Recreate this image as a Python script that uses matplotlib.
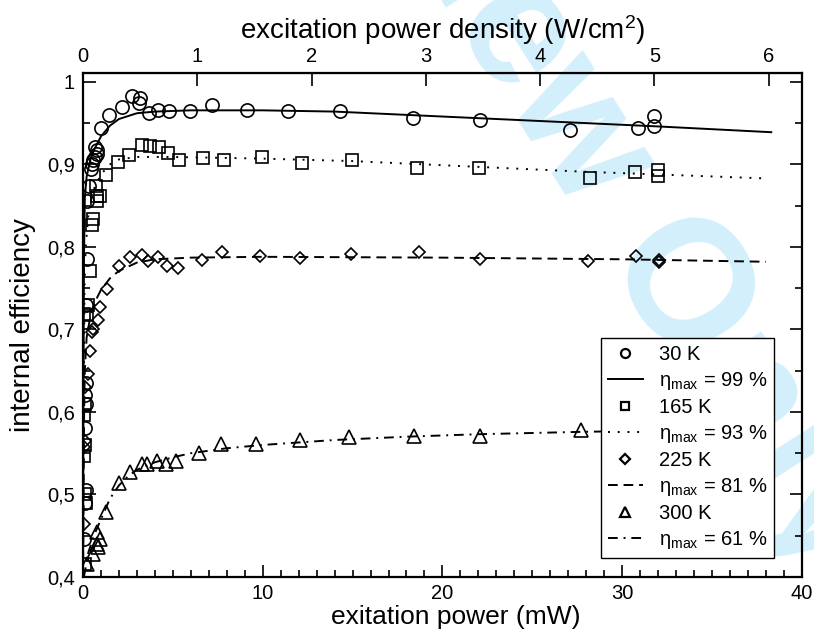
import numpy as np
import matplotlib.pyplot as plt
from matplotlib.lines import Line2D
from matplotlib.ticker import MultipleLocator, FixedLocator

plt.rcParams['font.family'] = ['Liberation Sans', 'DejaVu Sans']
plt.rcParams['mathtext.fontset'] = 'custom'
plt.rcParams['mathtext.rm'] = 'Liberation Sans'
plt.rcParams['mathtext.default'] = 'regular'

# measured points (power in mW, internal efficiency)
x_30K = [0.05, 0.1, 0.15, 0.12, 0.15, 0.12, 0.15, 0.17, 0.2, 0.2, 0.35, 0.42, 0.48, 0.57, 0.67,
         0.8, 0.76, 0.67, 0.98, 1.46, 2.15, 2.7, 3.13, 3.17, 3.69, 4.15, 4.8, 5.94, 7.2, 9.13,
         11.4, 14.3, 18.35, 22.1, 27.1, 30.9, 31.8, 31.8]
y_30K = [0.446, 0.49, 0.505, 0.58, 0.61, 0.62, 0.635, 0.73, 0.785, 0.856, 0.874, 0.895, 0.901,
         0.905, 0.909, 0.913, 0.917, 0.921, 0.944, 0.960, 0.969, 0.983, 0.975, 0.980, 0.962,
         0.966, 0.9645, 0.9645, 0.972, 0.966, 0.965, 0.965, 0.956, 0.954, 0.942, 0.944, 0.959, 0.946]

x_165K = [0.1, 0.15, 0.1, 0.06, 0.1, 0.05, 0.1, 0.05, 0.2, 0.3, 0.39, 0.48, 0.57, 0.72, 0.8, 0.8,
          0.94, 1.28, 1.96, 2.57, 3.3, 3.7, 4.24, 4.74, 5.35, 6.65, 7.85, 9.98, 12.2, 14.96,
          18.6, 22.05, 28.2, 30.7, 32.0, 32.0]
y_165K = [0.416, 0.49, 0.50, 0.547, 0.56, 0.596, 0.61, 0.719, 0.717, 0.729, 0.771, 0.826, 0.834,
          0.874, 0.862, 0.856, 0.862, 0.887, 0.9035, 0.911, 0.924, 0.922, 0.921, 0.9135, 0.905,
          0.908, 0.9055, 0.909, 0.902, 0.9055, 0.896, 0.896, 0.8836, 0.891, 0.893, 0.8865]

x_225K = [0.05, 0.08, 0.1, 0.12, 0.3, 0.39, 0.48, 0.57, 0.85, 0.94, 1.31, 2.0, 2.6, 3.26, 3.63,
          4.18, 4.65, 5.3, 6.6, 7.76, 9.83, 12.05, 14.9, 18.7, 22.1, 28.1, 30.8, 32.05, 32.05]
y_225K = [0.464, 0.557, 0.565, 0.63, 0.646, 0.674, 0.697, 0.70, 0.711, 0.727, 0.749, 0.777,
          0.7875, 0.790, 0.7835, 0.7875, 0.777, 0.775, 0.7846, 0.7935, 0.7895, 0.787, 0.791,
          0.7935, 0.7855, 0.7827, 0.7895, 0.7846, 0.782]

x_300K = [0.2, 0.57, 0.76, 0.85, 0.8, 0.94, 1.3, 2.0, 2.6, 3.26, 3.57, 4.13, 4.6, 5.2, 6.46,
          7.67, 9.65, 12.05, 14.8, 18.4, 22.1, 27.7]
y_300K = [0.416, 0.428, 0.44, 0.436, 0.454, 0.446, 0.479, 0.514, 0.527, 0.537, 0.537, 0.540,
          0.537, 0.540, 0.550, 0.561, 0.561, 0.566, 0.570, 0.571, 0.571, 0.578]

# fitted curves
fx_30K = [0.0, 0.02, 0.05, 0.1, 0.2, 0.4, 0.6, 1.0, 1.5, 2.0, 3.0, 4.0, 6.0, 10, 14, 20, 26, 32, 38.3]
fy_30K = [0.40, 0.60, 0.78, 0.86, 0.885, 0.905, 0.917, 0.934, 0.947, 0.955, 0.962, 0.964,
          0.9655, 0.9655, 0.964, 0.958, 0.952, 0.946, 0.939]

fx_165K = [0.0, 0.03, 0.08, 0.15, 0.3, 0.6, 1.0, 1.5, 2.0, 3, 5, 10, 15, 22, 28, 38]
fy_165K = [0.40, 0.60, 0.75, 0.80, 0.84, 0.87, 0.888, 0.90, 0.906, 0.909, 0.909, 0.907,
           0.904, 0.897, 0.891, 0.883]

fx_225K = [0.0, 0.03, 0.06, 0.1, 0.2, 0.4, 0.7, 1.0, 1.5, 2.0, 3.0, 4.0, 6, 10, 20, 30, 38]
fy_225K = [0.40, 0.50, 0.60, 0.65, 0.69, 0.715, 0.735, 0.748, 0.762, 0.771, 0.781, 0.785,
           0.787, 0.788, 0.787, 0.785, 0.782]

fx_300K = [0.05, 0.3, 0.6, 1.0, 1.5, 2, 2.5, 3, 4, 5, 6, 8, 10, 14, 18, 22, 28, 38]
fy_300K = [0.40, 0.43, 0.45, 0.47, 0.495, 0.511, 0.522, 0.53, 0.539, 0.545, 0.55, 0.556,
           0.56, 0.566, 0.57, 0.573, 0.576, 0.579]

temps = ['30 K', '165 K', '225 K', '300 K']
eta_max = [99, 93, 81, 61]

y_ticks = [0.4, 0.5, 0.6, 0.7, 0.8, 0.9, 1.0]
y_ticklabels = ['0,4', '0,5', '0,6', '0,7', '0,8', '0,9', '1']
top_ticks = [0, 1, 2, 3, 4, 5, 6]
mw_per_wcm2 = 6.36

fig = plt.figure(figsize=(8.14, 6.33), dpi=100)
ax = fig.add_axes([0.102, 0.0885, 0.883, 0.7965])
ax.patch.set_alpha(0)

# watermark
fig.text(0.592, 1.03, 'For Review Only', rotation=-57.5, fontsize=126, fontweight='bold',
         color='#d3effc', ha='center', va='center', zorder=-1, rotation_mode='anchor')

lw = 1.4
mk = dict(ls='none', mfc='none', mec='black', mew=1.2, color='black')
ax.plot(x_30K, y_30K, marker='o', ms=9.5, **mk)
ax.plot(x_165K, y_165K, marker='s', ms=8.5, **mk)
ax.plot(x_225K, y_225K, marker='D', ms=6.6, **mk)
ax.plot(x_300K, y_300K, marker='^', ms=9.5, **mk)

styles = ['-', (0, (1, 4)), (0, (5, 3)), (0, (5, 3, 1, 3))]
ax.plot(fx_30K, fy_30K, color='black', lw=lw, ls=styles[0])
ax.plot(fx_165K, fy_165K, color='black', lw=lw, ls=styles[1])
ax.plot(fx_225K, fy_225K, color='black', lw=lw, ls=styles[2])
ax.plot(fx_300K, fy_300K, color='black', lw=lw, ls=styles[3])

ax.set_xlim(0, 40)
ax.set_ylim(0.4, 1.011)
ax.xaxis.set_major_locator(MultipleLocator(10))
ax.xaxis.set_minor_locator(MultipleLocator(1))
ax.yaxis.set_major_locator(FixedLocator(y_ticks))
ax.set_yticklabels(y_ticklabels)
ax.yaxis.set_minor_locator(MultipleLocator(0.05))
ax.tick_params(which='both', direction='in', right=True, labelsize=14.5, width=1.2)
ax.tick_params(which='major', length=9)
ax.tick_params(which='minor', length=5)
ax.tick_params(axis='y', pad=6)
ax.tick_params(axis='x', pad=5)
for s in ax.spines.values():
    s.set_linewidth(1.6)

top = ax.secondary_xaxis('top', functions=(lambda v: v / mw_per_wcm2, lambda v: v * mw_per_wcm2))
top.set_xticks(top_ticks)
top.tick_params(direction='in', length=9, width=1.2, labelsize=14.5, pad=5)
top.set_xlabel('excitation power density (W/cm$^2$)', fontsize=20, labelpad=6)

ax.set_xlabel('exitation power (mW)', fontsize=19, labelpad=4)
ax.xaxis.set_label_coords(0.518, -0.055)
ax.set_ylabel('internal efficiency', fontsize=20, labelpad=8)

handles = []
labels = []
mkrs = [('o', 6.5), ('s', 6), ('D', 4.8), ('^', 6.5)]
for i in range(4):
    handles.append(Line2D([], [], ls='none', marker=mkrs[i][0], ms=mkrs[i][1], mfc='none',
                          mec='black', mew=1.6))
    labels.append(temps[i])
    handles.append(Line2D([], [], color='black', lw=lw, ls=styles[i]))
    labels.append(r'$\eta_{max}$ = %d %%' % eta_max[i])
leg = ax.legend(handles, labels, loc='lower right', bbox_to_anchor=(0.962, 0.0377),
                borderaxespad=0, fontsize=14.5, fancybox=False, edgecolor='black',
                framealpha=1, handlelength=1.7, handletextpad=0.8, labelspacing=0.3,
                borderpad=0.35)
leg.get_frame().set_linewidth(1.0)

fig.savefig('out.png', dpi=100)
